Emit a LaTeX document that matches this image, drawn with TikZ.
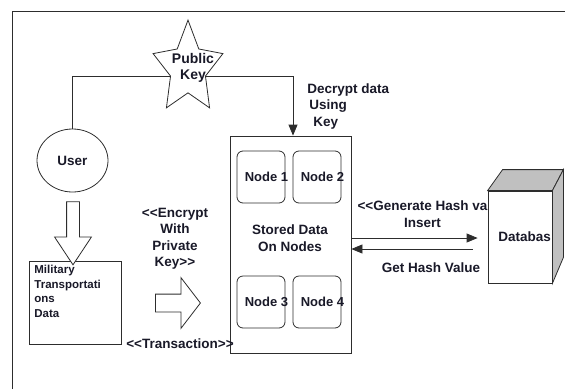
\documentclass[tikz,border=0pt]{standalone}
\usepackage{fontspec}
\setmainfont{Liberation Sans}[Ligatures=TeXOff]
\usetikzlibrary{positioning, arrows.meta, shapes.geometric, shapes.arrows}

\definecolor{LineGray}{RGB}{45,45,45}
\definecolor{FaceGray}{RGB}{192,192,192}
\definecolor{TextInk}{RGB}{25,25,40}

\begin{document}
\begin{tikzpicture}[x=1pt, y=1pt, line width=0.8pt,
    every node/.style={text=TextInk, font=\fontsize{13.5}{16.5}\selectfont\bfseries},
    box/.style={draw=LineGray, inner sep=0pt},
    unit/.style={box, rounded corners=6pt, minimum width=48pt, minimum height=52pt},
    blockarrow/.style={single arrow, draw=LineGray, fill=white, inner sep=0pt, single arrow head indent=0pt},
    link/.style={draw=LineGray, -{Triangle[length=11pt, width=9pt]}}]
  \useasboundingbox (0,0) rectangle (565,-389);
  \draw[LineGray] (12,-389) -- (12,-11) -- (565,-11);

  \begin{scope}[shift={(188,-68.6)}, xscale=0.757]
    \node[star, star points=5, star point ratio=2, minimum size=97pt, draw=LineGray, inner sep=0pt, transform shape] (key) {};
  \end{scope}
  \node[align=center, font=\fontsize{14}{16}\selectfont\bfseries] (keytext) at (193,-68) {Public\\Key};

  \node[box, ellipse, minimum width=71pt, minimum height=63pt] (user) at (72.5,-160.5) {User};
  \node[box, minimum width=121pt, minimum height=217pt] (store) at (290.5,-244.5) {};
  \node[align=center] (storetext) at (290,-238) {Stored Data\\On Nodes};
  \foreach \i/\x/\y in {1/261/177, 2/317/177, 3/261/302, 4/317/302} {
    \node[unit] (n\i) at (\x,-\y) {};
    \node[font=\fontsize{13}{16}\selectfont\bfseries] (n\i text) at (\x+5.5,-\y) {Node \i};
  }

  \node[box, minimum width=92pt, minimum height=83pt] (mil) at (75,-302.5) {};
  \node[align=left, anchor=north west, inner sep=0pt, font=\fontsize{11.5}{14.5}\selectfont\bfseries] (miltext) at (34,-265) {Military\\Transportati\\ons\\Data};

  \node[blockarrow, rotate=-90, minimum height=63pt, inner ysep=6pt, single arrow head extend=12pt, single arrow tip angle=67] (down) at (73,-228.5) {};
  \node[blockarrow, minimum height=45pt, inner ysep=8.5pt, single arrow head extend=16.5pt, single arrow tip angle=105] (push) at (174.5,-303) {};

  \node[align=center] (enc) at (175,-239) {<<Encrypt\\With\\Private\\Key>>};
  \node (trans) at (180,-344) {<<Transaction>>};
  \node[align=left, anchor=north west, inner sep=0pt] (dec) at (307,-83) {Decrypt data\\\hspace*{2pt}Using\\\hspace*{6pt}Key};

  \node[box, fill=white, minimum width=64pt, minimum height=92pt] (db) at (520,-237) {};
  \filldraw[fill=FaceGray, draw=LineGray] (db.north west) -- ++(15,21) -- ([shift={(11,21)}]db.north east) -- (db.north east) -- cycle;
  \filldraw[fill=FaceGray, draw=LineGray] (db.north east) -- ++(11,21) -- ([shift={(11,26)}]db.south east) -- (db.south east) -- cycle;
  \node[anchor=west, inner sep=0pt] (dbtext) at (498,-237) {Databas};

  \node[align=center] (gen) at (422.5,-214) {<<Generate Hash va\\Insert};
  \node (get) at (431,-268) {Get Hash Value};

  \draw[LineGray] (user.north) |- (key.inner point 2);
  \draw[link] (key.inner point 4) -| ([xshift=2.5pt]store.north);
  \draw[link] ([yshift=6.5pt]store.east) -- ([xshift=-10pt, yshift=-1pt]db.west);
  \draw[link] ([xshift=-15pt, yshift=-12pt]db.west) -- ([yshift=-4.5pt]store.east);
\end{tikzpicture}
\end{document}
